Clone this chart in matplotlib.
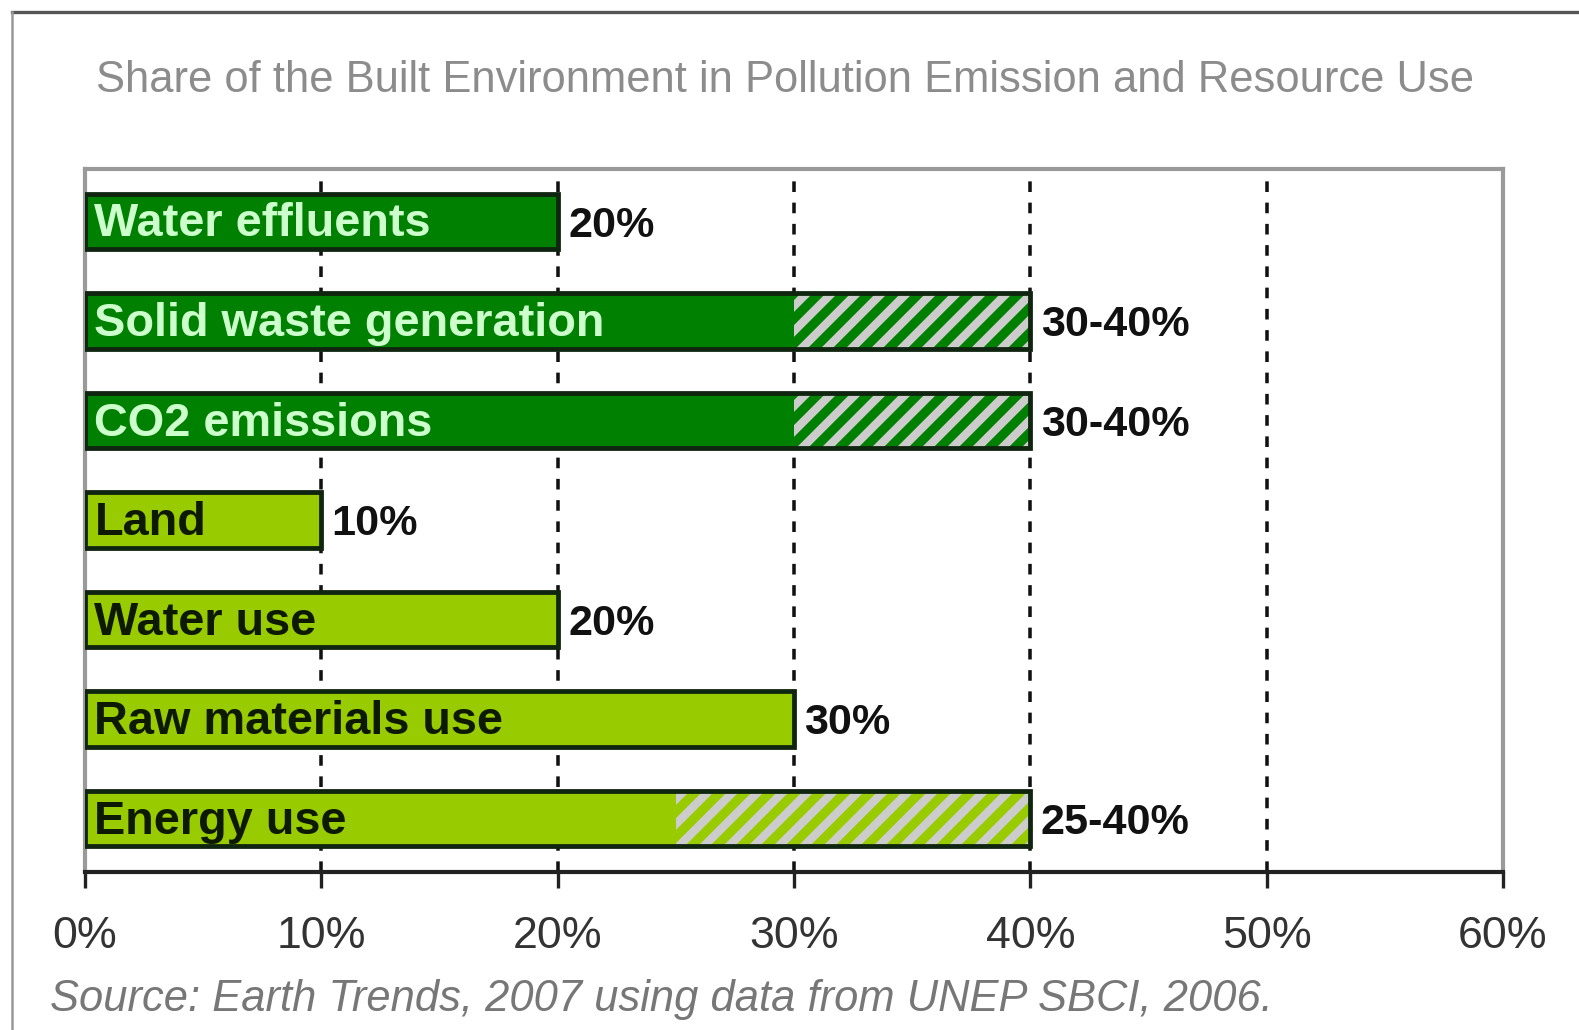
import matplotlib
matplotlib.use("Agg")
import matplotlib.pyplot as plt
from matplotlib.lines import Line2D

# Datos (% del total atribuible al entorno construido)
categorias = ["Water effluents", "Solid waste generation", "CO2 emissions",
              "Land", "Water use", "Raw materials use", "Energy use"]
valor_min = [20, 30, 30, 10, 20, 30, 25]
valor_max = [20, 40, 40, 10, 20, 30, 40]
etiquetas = ["20%", "30-40%", "30-40%", "10%", "20%", "30%", "25-40%"]
grupo = ["emision", "emision", "emision", "recurso", "recurso", "recurso", "recurso"]
ticks_x = [0, 10, 20, 30, 40, 50, 60]

COLOR_BARRA = {"emision": "#008000", "recurso": "#99cc00"}
COLOR_TEXTO = {"emision": "#ccffcc", "recurso": "#0d1a00"}
BORDE = "#0f250f"

W, H = 1579, 1030
DPI = 150
plt.rcParams['font.family'] = ['Liberation Sans', 'DejaVu Sans']
plt.rcParams['hatch.linewidth'] = 4.0

fig = plt.figure(figsize=(W / DPI, H / DPI), dpi=DPI)
fig.patch.set_facecolor("white")
ax = fig.add_axes([85 / W, 1 - 872 / H, (1503 - 85) / W, (872 - 169) / H])

# marco exterior
fig.add_artist(Line2D([12 / W, 1], [1 - 12 / H] * 2, color="#555555", lw=1.6,
                      transform=fig.transFigure))
fig.add_artist(Line2D([12 / W] * 2, [0, 1 - 12 / H], color="#999999", lw=1.2,
                      transform=fig.transFigure))

y = list(range(len(categorias)))
alto = 0.556

for yi, cat, lo, hi, lab, g in zip(y, categorias, valor_min, valor_max, etiquetas, grupo):
    ax.barh(yi, lo, height=alto, color=COLOR_BARRA[g], linewidth=0, zorder=3)
    if hi > lo:
        ax.barh(yi, hi - lo, left=lo, height=alto, color=COLOR_BARRA[g],
                edgecolor="#cccccc", hatch="//", linewidth=0, zorder=3)
    ax.barh(yi, hi, height=alto, fill=False, edgecolor=BORDE, linewidth=2.3, zorder=4)
    ax.annotate(cat, xy=(0, yi), xytext=(4.5, -1.5), textcoords="offset points",
                ha="left", va="center", fontsize=22.5, fontweight="bold",
                color=COLOR_TEXTO[g], zorder=5)
    ax.annotate(lab, xy=(hi, yi), xytext=(5, -2), textcoords="offset points",
                ha="left", va="center", fontsize=20.7, fontweight="bold",
                color="#111111", zorder=5)

ax.set_xlim(0, 60)
ax.set_ylim(6.536, -0.526)
ax.set_yticks([])
ax.set_xticks(ticks_x)
ax.set_xticklabels([f"{t}%" for t in ticks_x], fontsize=21.5, color="#333333")
ax.tick_params(axis="x", direction="out", length=7.5, width=1.6, color="#222222", pad=13.5)

for t in ticks_x[1:-1]:
    ax.axvline(t, color="#111111", lw=1.7, ls=(0, (3, 3)), zorder=1)

for lado in ["left", "top", "right"]:
    ax.spines[lado].set_color("#9a9a9a")
    ax.spines[lado].set_linewidth(2.0)
ax.spines["bottom"].set_color("#222222")
ax.spines["bottom"].set_linewidth(2.0)

fig.text(96 / W, 1 - 81 / H,
         "Share of the Built Environment in Pollution Emission and Resource Use",
         ha="left", va="center", fontsize=20.9, color="#8c8c8c")
fig.text(50 / W, 1 - 1000 / H,
         "Source: Earth Trends, 2007 using data from UNEP SBCI, 2006.",
         ha="left", va="center", fontsize=20.9, color="#777777", style="italic")

fig.savefig("out.png", dpi=DPI)
